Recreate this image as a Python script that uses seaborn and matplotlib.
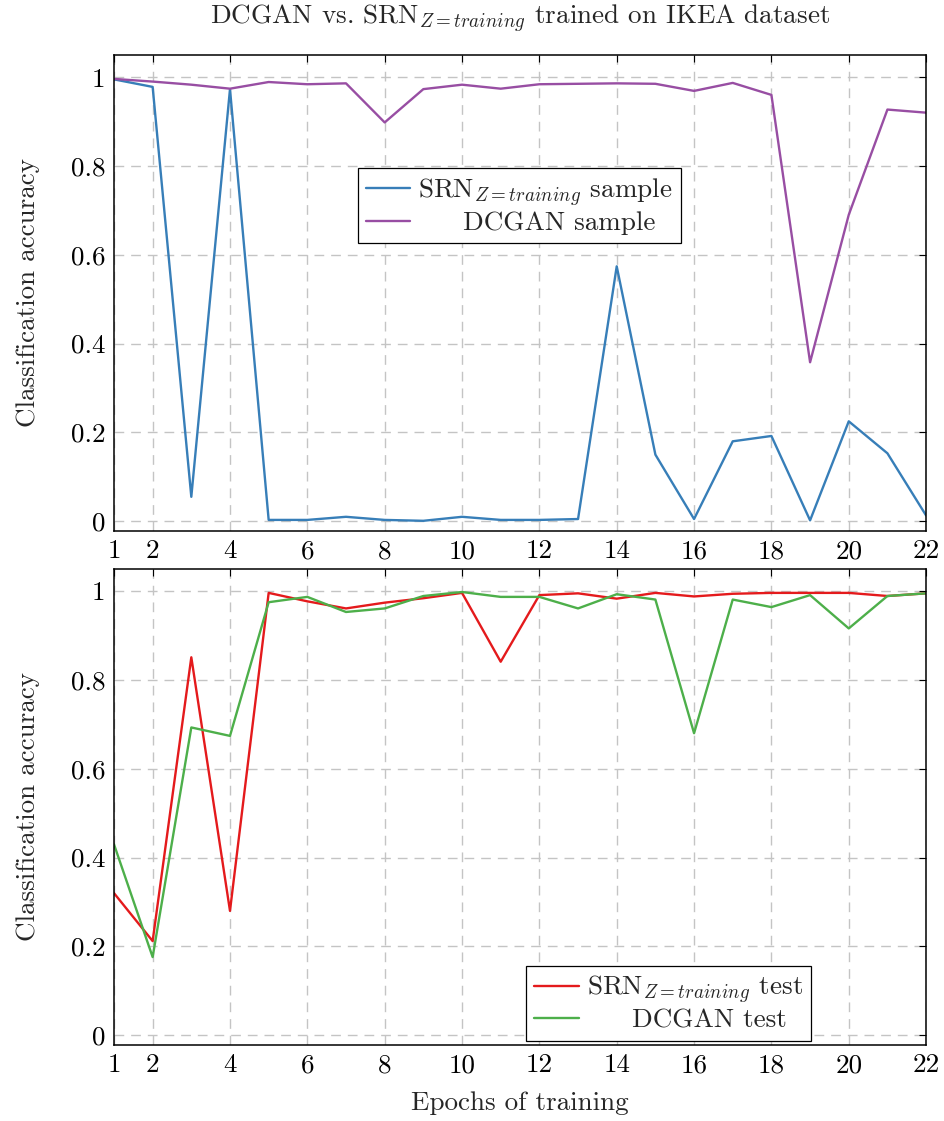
import numpy as np
import pandas as pd
import matplotlib
matplotlib.use('Agg')
import matplotlib.pyplot as plt
import seaborn as sns

# data
epochs = list(range(1, 23))
srn_sample = [0.995, 0.978, 0.055, 0.973, 0.003, 0.003, 0.010, 0.003, 0.001, 0.010, 0.003,
              0.003, 0.005, 0.574, 0.150, 0.005, 0.180, 0.192, 0.002, 0.225, 0.153, 0.013]
dcgan_sample = [0.996, 0.990, 0.983, 0.974, 0.989, 0.984, 0.986, 0.898, 0.973, 0.983, 0.974,
                0.984, 0.985, 0.986, 0.985, 0.969, 0.987, 0.960, 0.358, 0.690, 0.927, 0.920]
srn_test = [0.320, 0.212, 0.851, 0.280, 0.996, 0.977, 0.961, 0.974, 0.984, 0.996, 0.841,
            0.991, 0.995, 0.983, 0.996, 0.988, 0.994, 0.996, 0.996, 0.996, 0.989, 0.995]
dcgan_test = [0.430, 0.176, 0.693, 0.674, 0.975, 0.987, 0.953, 0.961, 0.989, 0.998, 0.987,
              0.987, 0.961, 0.993, 0.981, 0.680, 0.981, 0.964, 0.991, 0.916, 0.989, 0.995]

xticks = [1, 2, 4, 6, 8, 10, 12, 14, 16, 18, 20, 22]
yticks = [0, 0.2, 0.4, 0.6, 0.8, 1]
ytick_labels = ['0', '0.2', '0.4', '0.6', '0.8', '1']

sns.set_style('white')
plt.rcParams['font.family'] = ['cmr10', 'DejaVu Serif']
plt.rcParams['mathtext.fontset'] = 'cm'
plt.rcParams['axes.formatter.use_mathtext'] = True
FS = 19.5
plt.rcParams['font.size'] = FS

fig = plt.figure(figsize=(9.45, 11.21), dpi=100)
ax1 = fig.add_axes([0.1206, 0.5263, 0.8594, 0.4247])
ax2 = fig.add_axes([0.1206, 0.0678, 0.8594, 0.4247])

top = pd.DataFrame({'epoch': epochs, 'srn': srn_sample, 'dcgan': dcgan_sample})
bot = pd.DataFrame({'epoch': epochs, 'srn': srn_test, 'dcgan': dcgan_test})

sub = r'SRN$_{Z=training}$'
sns.lineplot(data=top, x='epoch', y='srn', ax=ax1, color='#377eb8', lw=1.7,
             label=sub + ' sample')
sns.lineplot(data=top, x='epoch', y='dcgan', ax=ax1, color='#984ea3', lw=1.7,
             label='     DCGAN sample')
sns.lineplot(data=bot, x='epoch', y='srn', ax=ax2, color='#e41a1c', lw=1.7,
             label=sub + ' test')
sns.lineplot(data=bot, x='epoch', y='dcgan', ax=ax2, color='#4daf4a', lw=1.7,
             label='     DCGAN test')

for ax in (ax1, ax2):
    ax.set_xlim(1, 22)
    ax.set_ylim(-0.022, 1.05)
    ax.set_xticks(xticks)
    ax.set_xticklabels([str(t) for t in xticks])
    ax.set_yticks(yticks)
    ax.set_yticklabels(ytick_labels)
    ax.grid(True, color='#c4c4c4', lw=1.0, linestyle=(0, (7, 5)))
    ax.tick_params(direction='in', top=True, right=True, length=5, width=0.8,
                   labelsize=FS, pad=6, colors='black')
    for s in ax.spines.values():
        s.set_color('black')
        s.set_linewidth(1.1)
    ax.set_ylabel('Classification accuracy', fontsize=FS, labelpad=22)
    ax.set_xlabel('')

ax2.set_xlabel('Epochs of training', fontsize=FS, labelpad=10)
ax1.set_title('DCGAN vs. ' + sub + ' trained on IKEA dataset', fontsize=FS, pad=22)

leg_kw = dict(loc='center', frameon=True, fancybox=False, framealpha=1,
              edgecolor='black', fontsize=FS, handlelength=1.65, borderpad=0.3,
              labelspacing=0.1, handletextpad=0.3)
l1 = ax1.legend(bbox_to_anchor=(0.499, 0.683), **leg_kw)
l2 = ax2.legend(bbox_to_anchor=(0.683, 0.088), **leg_kw)
for l in (l1, l2):
    l.get_frame().set_linewidth(0.9)

fig.savefig('out.png', dpi=100)
